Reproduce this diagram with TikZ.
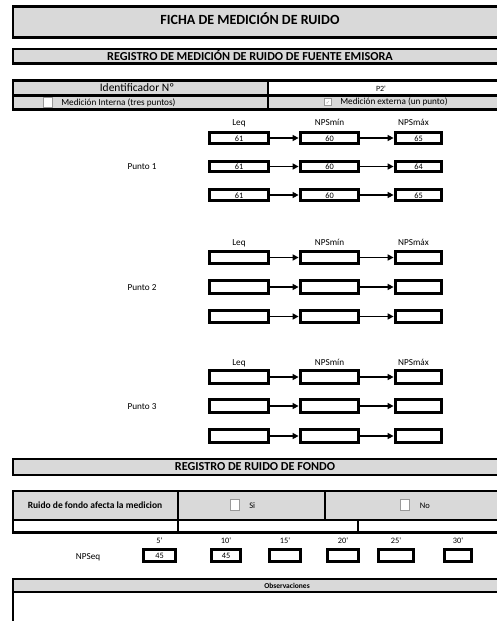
\documentclass[tikz,border=0pt]{standalone}
\usepackage{fontspec}
\setmainfont{Carlito}
\newfontfamily\symbolfont{DejaVu Sans}
\usetikzlibrary{arrows.meta,positioning}

\begin{document}
\begin{tikzpicture}
        [x=1pt, y=-1pt, line cap=rect,
        % Styles
        every node/.style={text height=0.644em, text depth=0pt},
        frame/.style={line width=2.8pt},
        value box/.style={draw, line width=2.8pt, inner sep=0pt, font=\fontsize{8.3}{9}\selectfont},
        flow/.style={line width=1.8pt, -{Triangle[length=6pt, width=6pt]}, shorten >=0.5pt},
        check box/.style={draw=checkgray, fill=white, line width=0.6pt, inner sep=0pt},
        title text/.style={font=\bfseries\fontsize{14}{16}\selectfont},
        header text/.style={font=\bfseries\fontsize{12.2}{14}\selectfont},
        small text/.style={font=\fontsize{9.2}{11}\selectfont}]

        % Colors
        \colorlet{cellgray}{black!15}
        \colorlet{checkgray}{black!40}

        \useasboundingbox (0,0) rectangle (496,621);

        % The graphic
        \draw[frame, fill=cellgray] (13,6.3) rectangle (500,37.5);
        \node[title text] (ficha) at (250,21.5) {FICHA DE MEDICIÓN DE RUIDO};
        \draw[frame, fill=cellgray] (13,49) rectangle (500,63.2);
        \node[header text] (fuente) at (250,56.8) {REGISTRO DE MEDICIÓN DE RUIDO DE FUENTE EMISORA};

        % Identificador
        \fill[cellgray] (13,80.2) rectangle (268,95.5);
        \fill[cellgray] (13,95.5) rectangle (500,109.5);
        \draw[frame] (13,80.2) rectangle (500,109.5) (13,95.5) -- (500,95.5) (268,80.2) -- (268,109.5);
        \node[font=\fontsize{11.5}{13}\selectfont] (ident) at (137,87.8) {Identificador Nº};
        \node[small text, font=\fontsize{8}{9}\selectfont] (ident value) at (381,87.8) {P2\textquotesingle};
        \node[check box, minimum width=9pt, minimum height=10pt] (interna box) at (48,102.5) {};
        \node[small text, right=5pt of interna box] (interna) {Medición Interna (tres puntos)};
        \node[check box, minimum size=7pt, font=\symbolfont\fontsize{5}{5}\selectfont, text=checkgray]
                (externa box) at (328,101.5) {✓};
        \node[small text, right=5pt of externa box] (externa) {Medición externa (un punto)};

        % Puntos de medicion
        \coordinate (punto col) at (142,0);
        \foreach \p/\h/\g/\rows in {
                1/10.5/2/{138/61/60/65, 166.5/61/60/64, 195/61/60/65},
                2/12.5/0.5/{257.5///, 287///, 316.5///},
                3/12.5/0.5/{377///, 406///, 436///}}
        {
                \foreach \y/\leqval/\minval/\maxval [count=\r] in \rows
                {
                        \node[value box, minimum width=59pt, minimum height=\h pt] (leq-\p-\r) at (239,\y) {\leqval};
                        \node[value box, minimum width=58pt, minimum height=\h pt] (min-\p-\r) at (329.5,\y) {\minval};
                        \node[value box, minimum width=46pt, minimum height=\h pt] (max-\p-\r) at (418.5,\y) {\maxval};
                        \draw[flow] (leq-\p-\r) -- (min-\p-\r);
                        \draw[flow] (min-\p-\r) -- (max-\p-\r);
                }
                \node[small text, above=\g pt of leq-\p-1] (leq label \p) {Leq};
                \node[small text, above=\g pt of min-\p-1] (min label \p) {NPSmín};
                \node[small text, above=\g pt of max-\p-1, xshift=-5pt] (max label \p) {NPSmáx};
                \node[small text] (punto \p) at (leq-\p-2 -| punto col) {Punto \p};
        }

        % Ruido de fondo
        \draw[frame, fill=cellgray] (13,459) rectangle (500,475);
        \node[header text] (fondo) at (255,467) {REGISTRO DE RUIDO DE FONDO};
        \fill[cellgray] (13,491) rectangle (500,520);
        \draw[frame] (13,491) rectangle (500,532.5) (13,520) -- (500,520)
                (178,491) -- (178,532.5) (325,491) -- (325,520) (358,520) -- (358,532.5);
        \node[font=\bfseries\fontsize{9.5}{11}\selectfont] (afecta) at (95,505) {Ruido de fondo afecta la medicion};
        \node[check box, minimum width=9pt, minimum height=11pt] (si box) at (235,505) {};
        \node[small text, font=\fontsize{8.5}{10}\selectfont, right=6pt of si box] (si) {Si};
        \node[check box, minimum width=9pt, minimum height=11pt] (no box) at (404.5,505) {};
        \node[small text, font=\fontsize{8.5}{10}\selectfont, right=7pt of no box] (no) {No};

        % NPSeq
        \node[small text] (npseq) at (88,556) {NPSeq};
        \foreach \x/\w/\t/\v in {159.5/32/5/45, 226/29/10/45, 285/31/15/, 343/31/20/, 396/35/25/, 458/27/30/}
        {
                \node[value box, minimum width=\w pt, minimum height=12pt] (eq-\t) at (\x,555.5) {\v};
                \node[small text, font=\fontsize{8.3}{9}\selectfont, above=1pt of eq-\t] (eq label \t) {\t\textquotesingle};
        }

        % Observaciones
        \fill[cellgray] (13,579) rectangle (500,592);
        \draw[frame] (500,579) -- (13,579) -- (13,630) (13,592) -- (500,592);
        \node[font=\bfseries\fontsize{7.5}{9}\selectfont] (obs) at (287,585.5) {Observaciones};
\end{tikzpicture}
\end{document}
